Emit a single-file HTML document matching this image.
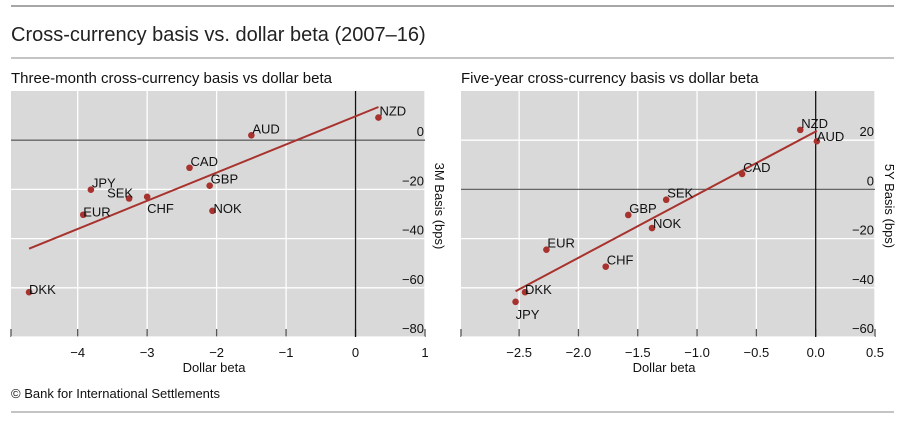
<!DOCTYPE html>
<html><head><meta charset="utf-8"><style>
body{margin:0;background:#fff;width:900px;height:421px;overflow:hidden;font-family:"Liberation Sans",sans-serif}
svg text{font-family:"Liberation Sans",sans-serif}
</style></head><body>
<svg id="s" width="900" height="421">
<line x1="11" y1="6" x2="894" y2="6" stroke="#888" stroke-width="1.5"/>
<text x="11" y="41" font-size="20" fill="#222">Cross-currency basis vs. dollar beta (2007–16)</text>
<line x1="11" y1="58" x2="894" y2="58" stroke="#888" stroke-width="1"/>
<text x="11" y="83" font-size="15" fill="#111">Three-month cross-currency basis vs dollar beta</text>
<text x="461" y="83" font-size="15" fill="#111">Five-year cross-currency basis vs dollar beta</text>
<text x="11" y="398" font-size="13" fill="#111">© Bank for International Settlements</text>
<line x1="11" y1="412" x2="894" y2="412" stroke="#888" stroke-width="1"/>
<g id="g1"></g><g id="g2"></g>
</svg>
<script>
const ccys3m = ["NZD","AUD","CAD","GBP","JPY","SEK","CHF","EUR","NOK","DKK"];
const beta3m = [0.33,-1.50,-2.39,-2.10,-3.81,-3.26,-3.00,-3.92,-2.06,-4.70];
const basis3m = [9.2,2.0,-11.2,-18.5,-20.1,-23.7,-23,-30.3,-28.7,-61.8];
const fit3mX = [-4.70,0.33];
const fit3mY = [-44.1,13.5];
const xTicks3m = [-4,-3,-2,-1,0,1];
const yTicks3m = [0,-20,-40,-60,-80];

const ccys5y = ["NZD","AUD","CAD","SEK","GBP","NOK","EUR","CHF","DKK","JPY"];
const beta5y = [-0.13,0.01,-0.62,-1.26,-1.58,-1.38,-2.27,-1.77,-2.45,-2.53];
const basis5y = [24.2,19.6,6.3,-4.2,-10.4,-15.7,-24.5,-31.4,-41.8,-45.7];
const fit5yX = [-2.53,0.01];
const fit5yY = [-41.4,23.8];
const xTicks5y = [-2.5,-2.0,-1.5,-1.0,-0.5,0.0,0.5];
const yTicks5y = [20,0,-20,-40,-60];

const NS="http://www.w3.org/2000/svg";
function mk(parent,tag,attrs,txt){const e=document.createElementNS(NS,tag);for(const k in attrs)e.setAttribute(k,attrs[k]);if(txt!==undefined)e.textContent=txt;parent.appendChild(e);return e;}
function fmt(v,d){return (v<0?"\u2212":"")+Math.abs(v).toFixed(d);}

function draw(g,o){
  const X=v=>o.px0+(v-o.xmin)/(o.xmax-o.xmin)*(o.px1-o.px0);
  const Y=v=>o.py1-(v-o.ymin)/(o.ymax-o.ymin)*(o.py1-o.py0);
  const bg=mk(g,"rect",{x:o.px0,y:o.py0,width:o.px1-o.px0,height:o.py1-o.py0,fill:"#d9d9d9"});
  
  
  o.xt.forEach(t=>{
    const l=mk(g,"line",{x1:X(t),x2:X(t),y1:o.py0,y2:o.py1,stroke:"#fff","stroke-width":1.3});
    
    
    const tk=mk(g,"line",{x1:X(t),x2:X(t),y1:o.py1-8,y2:o.py1,stroke:"#555","stroke-width":1.3});
    
    
    const tx=mk(g,"text",{x:X(t),y:o.py1+20,"font-size":13,"text-anchor":"middle",fill:"#111"},fmt(t,o.xd));
    
    
  });
  const tkL=mk(g,"line",{x1:o.px0,x2:o.px0,y1:o.py1-8,y2:o.py1,stroke:"#555","stroke-width":1.3});
  
  
  o.yt.forEach(t=>{
    if(t!==0){const l=mk(g,"line",{x1:o.px0,x2:o.px1,y1:Y(t),y2:Y(t),stroke:"#fff","stroke-width":1.3});
    
    }
    const tx=mk(g,"text",{x:o.px1-1,y:Y(t)-4,"font-size":13,"text-anchor":"end",fill:"#111"},fmt(t,0));
    
    
  });
  const z=mk(g,"line",{x1:o.px0,x2:o.px1,y1:Y(0),y2:Y(0),stroke:"#666","stroke-width":1.3});
  
  
  const v=mk(g,"line",{x1:X(0),x2:X(0),y1:o.py0,y2:o.py1,stroke:"#111","stroke-width":1.3});
  
  
  const fl=mk(g,"line",{x1:X(o.fx[0]),y1:Y(o.fy[0]),x2:X(o.fx[1]),y2:Y(o.fy[1]),stroke:"#a8322d","stroke-width":2});
  
  
  o.c.forEach((c,i)=>{
    const cx=X(o.bx[i]),cy=Y(o.by[i]);
    const p=mk(g,"circle",{cx:cx,cy:cy,r:3.3,fill:"#a8322d"});
    
    
    const off=o.lab[c]||[1,-2,"start"];
    const t=mk(g,"text",{x:cx+off[0],y:cy+off[1],"font-size":13,"text-anchor":off[2],fill:"#111"},c);
    
    
  });
  const xt=mk(g,"text",{x:(o.px0+o.px1)/2-4,y:o.py1+35,"font-size":13,"text-anchor":"middle",fill:"#111"},"Dollar beta");
  
  
  const yx=o.px1+10, yy=(o.py0+o.py1)/2-8;
  const yt=mk(g,"text",{x:yx,y:yy,"font-size":13,"text-anchor":"middle",fill:"#111",transform:`rotate(90 ${yx} ${yy})`},o.ytitle);
  
  
}
draw(document.getElementById("g1"),{id:"three-month",px0:11,px1:425,py0:91,py1:337,xmin:-4.96,xmax:1,ymin:-80,ymax:20,
 xt:xTicks3m,yt:yTicks3m,xd:0,c:ccys3m,bx:beta3m,by:basis3m,fx:fit3mX,fy:fit3mY,ytitle:"3M Basis (bps)",
 lab:{SEK:[4,-1,"end"],CHF:[0,16,"start"],NOK:[1,2,"start"],EUR:[0,2,"start"],DKK:[0,2,"start"]}});
draw(document.getElementById("g2"),{id:"five-year",px0:461,px1:875,py0:91,py1:337,xmin:-2.99,xmax:0.5,ymin:-60,ymax:40,
 xt:xTicks5y,yt:yTicks5y,xd:1,c:ccys5y,bx:beta5y,by:basis5y,fx:fit5yX,fy:fit5yY,ytitle:"5Y Basis (bps)",
 lab:{JPY:[0,17,"start"],NOK:[1,0,"start"],AUD:[0,0,"start"],DKK:[0,2,"start"]}});
</script>
</body></html>
